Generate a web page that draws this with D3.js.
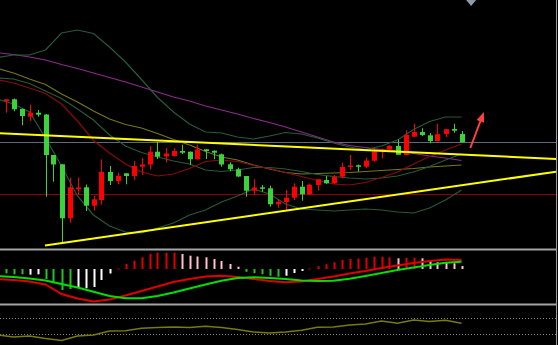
<!DOCTYPE html>
<html>
<head>
<meta charset="utf-8">
<script src="https://cdn.jsdelivr.net/npm/d3@7"></script>
<style>
body { margin: 0; background: #000; }
svg { display: block; }
</style>
</head>
<body>
<div class="viz"></div>
<script>
// candles, one per bar (bar 0 .. 57)
var candleOpen = [1198.7,1200.7,1191,1183.3,1187.3,1185.5,1145,1135.7,1081.7,1110.7,1112.7,1094.3,1100,1128,1119,1126.7,1124,1133.3,1135.5,1148.3,1143.5,1144,1149,1148.3,1140.7,1150.7,1149.3,1145.7,1135.7,1130.7,1124,1109.3,1112.7,1111.7,1095.7,1098,1102.3,1113.3,1105.7,1115,1120,1116.7,1123.3,1133.3,1134.7,1133.3,1139.3,1149.5,1150.5,1154,1145,1163.3,1168,1164.7,1159,1166,1171,1166];
var candleHigh = [1200.7,1201.5,1191.5,1195.3,1190,1186,1145,1136,1122.3,1122.5,1115.5,1104,1140.5,1134,1127.3,1127,1139,1142,1154,1158,1152,1151.7,1155.3,1148.5,1155.3,1151,1149.5,1146.5,1137.7,1132.3,1124,1120.7,1115,1114.3,1100,1110,1116.7,1119,1116.5,1121,1124,1125,1137.3,1145,1135.5,1142.3,1151.7,1151.5,1155,1160.5,1169.5,1176.3,1171.7,1167,1176.3,1171,1176.3,1169];
var candleLow = [1187.3,1188.7,1174.7,1179,1183.3,1103.3,1118.3,1057.7,1077.3,1105,1089,1089.5,1095.5,1115,1115.7,1115.7,1120,1125,1130.7,1141,1137.5,1143.3,1146,1135,1140.5,1141,1140.7,1133.3,1128.7,1123,1103.3,1105.5,1108.3,1093.3,1092.3,1090,1100,1099.3,1105,1109.3,1116,1115.7,1121.7,1130,1128.3,1132,1138.3,1141.5,1150,1145,1145,1163,1164,1156.7,1159,1163,1167.3,1157.5];
var candleClose = [1200.7,1190.7,1184,1187.3,1185.3,1145,1135.5,1081.7,1112.7,1112.5,1094.3,1100.7,1128,1119,1124.2,1124,1134,1135.5,1148.3,1143.3,1146.5,1149,1147.3,1140.7,1150.5,1149,1147.3,1135.5,1130.7,1123.5,1109.3,1112.5,1111.3,1095.7,1098.3,1102.3,1113.3,1105.7,1115.3,1120.7,1116.7,1123.3,1133,1134.5,1133.3,1139.5,1148.5,1150.5,1154,1145.2,1165,1168,1165,1159,1165.8,1170.8,1169.3,1157.7];

// indicator lines are read every second bar
var lineBars = [-1,1,3,5,7,9,11,13,15,17,19,21,23,25,27,29,31,33,35,37,39,41,43,45,47,49,51,53,55,57];
var maPurple = [1247.3,1245.5,1243,1240,1235.5,1231.5,1227,1222.5,1218,1213,1208,1203,1199,1194,1190,1186,1181.5,1177.5,1173,1168,1163,1158,1154.5,1152.5,1150.5,1149,1146.5,1144,1142,1139.5];
var maOlive = [1231.5,1227,1221,1215.5,1206,1198,1189,1181,1175.5,1172,1166.5,1160.5,1155,1148.5,1143,1140,1135,1131,1127.5,1126,1126.5,1127,1127.5,1128.5,1129.5,1130.5,1131.5,1133,1134,1135];
var maDarkRed = [1220.5,1217,1212,1206.5,1196,1179,1159.5,1147,1136,1128,1124,1126,1131.5,1138.5,1140,1138.5,1134.5,1131.5,1127.5,1123.5,1119.5,1116,1115,1117.5,1122.5,1128,1136,1143.5,1150,1156];
var bandUpper = [1242.5,1245,1245,1250,1267,1270,1266.5,1253,1238,1220.5,1202.5,1188,1176,1168,1167,1163,1161,1164,1167.5,1166,1162,1157,1153,1150.5,1154,1160,1170.5,1178.5,1183,1183];
var bandMiddle = [1222,1221,1216.5,1209,1201.5,1191,1180,1165,1154,1147.5,1143,1139,1136,1130,1128.5,1130,1132.5,1132.5,1131,1128.5,1125.5,1123.5,1122,1121,1122,1124,1128,1133.5,1140,1146];
var bandLower = [1201,1196,1188,1162,1134,1104,1085,1074,1068,1067,1072,1077,1085,1090,1098,1104,1111,1106,1096,1091,1090,1089,1090,1091,1090,1088,1087,1092,1100,1110];

// drawn objects: [bar, price]
var trendHigh = [[-0.69, 1166.7], [69.06, 1141]];
var trendLow = [[4.94, 1054.5], [69.06, 1128.6]];
var levelPrice = 1105.7;
var arrowPath = [[58.1, 1152], [59.8, 1188]];
var shiftBar = 58.2;

// MACD histogram, one per bar
var macdHist = [-4.3,-5.3,-5.3,-5.7,-5.3,-10,-14,-21,-20,-18,-19.3,-18,-11,-4.5,0.5,5,8.3,11.7,15,16.3,16.3,16.3,15,13.3,12.5,11.7,10,8,5,2.3,-2.8,-4.2,-5.3,-6.8,-7.7,-6.7,-4,-2,0.5,2.8,4.8,6.7,9,10,10.5,11.3,12.3,12.3,11.7,10.7,11.3,11.3,10.7,8.3,6.7,6.5,5.7,3];
var macdState = ["g","g","g","w","w","g","g","g","g","w","w","w","w","w","r","r","r","r","r","r","r","r","p","p","p","p","p","p","p","p","g","g","g","g","g","w","w","w","r","r","r","r","r","r","r","r","r","r","r","p","r","r","p","p","p","p","p","p"];
var macdGreen = [-7,-8,-9.5,-11.5,-15,-18.5,-22.7,-27,-29.3,-29.3,-27,-23.5,-19.5,-15.5,-11.7,-9,-8.3,-9,-10,-11.5,-12,-11.7,-9.7,-7,-4,-1,1.5,4,6.3,7.3];
var macdRed = [-10,-11,-12.5,-15.5,-25,-29.5,-32.5,-30.5,-26.5,-22,-17.5,-13,-10,-7.5,-6.7,-8,-10,-12,-13.3,-12.5,-10,-7.5,-4.5,-2,1,3.5,6,8,9.5,9];

// lower oscillator
var oscLevels = [70, 30];
var oscValues = [27.5,22.5,25,18.75,13.75,25,27.5,37.5,38.25,44.5,46.25,47.5,46.25,49.25,46.25,41.25,35,32.5,35,39.25,46.75,47.5,52.5,55,62.5,56.75,65,61.25,64.25,56.75];

// dimensions
var width = 558, height = 345;
var mainBottom = 247;

var svg = d3.select(".viz").append("svg")
    .attr("width", width)
    .attr("height", height)
    .style("background", "#000");

var defs = svg.append("defs");
defs.append("clipPath").attr("id", "clipMain")
    .append("rect").attr("x", 0).attr("y", 0).attr("width", 556).attr("height", mainBottom + 1);

// scales
var xScale = d3.scaleLinear().domain([0, 57]).range([5.5, 461.5]);
var yScale = d3.scaleLinear().domain([1053, 1300]).range([mainBottom, 0]);
var yMacd = d3.scaleLinear().domain([-34, 18]).range([303, 251]);
var yOsc = d3.scaleLinear().domain([0, 100]).range([346, 306]);

var main = svg.append("g").attr("clip-path", "url(#clipMain)");

var pairs = function(vals) { return vals.map((v, i) => [lineBars[i], v]); };

var priceLine = d3.line().x(d => xScale(d[0])).y(d => yScale(d[1]));

// horizontal levels
var bid = candleClose[candleClose.length - 1];
main.append("line")
    .attr("x1", 0).attr("x2", width)
    .attr("y1", Math.round(yScale(bid)) + 0.5).attr("y2", Math.round(yScale(bid)) + 0.5)
    .style("stroke", "#5f6b78").style("stroke-width", 1);
main.append("line")
    .attr("x1", 0).attr("x2", width)
    .attr("y1", Math.round(yScale(levelPrice)) + 0.5).attr("y2", Math.round(yScale(levelPrice)) + 0.5)
    .style("stroke", "#8b0000").style("stroke-width", 1);

// moving averages and bands
var maSeries = [
    { vals: maPurple, color: "#8e2a8e" },
    { vals: maOlive, color: "#77771a" },
    { vals: bandUpper, color: "#275a3a" },
    { vals: bandMiddle, color: "#275a3a" },
    { vals: bandLower, color: "#275a3a" },
    { vals: maDarkRed, color: "#8b0a0a" }
];
maSeries.forEach(s => {
    main.append("path")
        .datum(pairs(s.vals))
        .attr("d", priceLine)
        .style("fill", "none")
        .style("stroke", s.color)
        .style("stroke-width", 1.2);
});

// candles
var bars = d3.range(candleOpen.length);
var candleG = main.append("g");
candleG.selectAll(".wick")
    .data(bars)
    .enter()
    .append("line")
    .attr("x1", i => Math.round(xScale(i)) + 0.5)
    .attr("x2", i => Math.round(xScale(i)) + 0.5)
    .attr("y1", i => yScale(candleHigh[i]))
    .attr("y2", i => yScale(candleLow[i]))
    .style("stroke", i => candleClose[i] >= candleOpen[i] ? "#ff0000" : "#3cd23c")
    .style("stroke-width", 1);
candleG.selectAll(".body")
    .data(bars)
    .enter()
    .append("rect")
    .attr("x", i => Math.round(xScale(i)) - 2)
    .attr("width", 5)
    .attr("y", i => yScale(Math.max(candleOpen[i], candleClose[i])))
    .attr("height", i => Math.max(1.5, Math.abs(yScale(candleOpen[i]) - yScale(candleClose[i]))))
    .style("fill", i => candleClose[i] >= candleOpen[i] ? "#ff0000" : "#3cd23c");

// trend lines
[trendHigh, trendLow].forEach(t => {
    main.append("path")
        .datum(t)
        .attr("d", priceLine)
        .style("stroke", "#ffff00")
        .style("stroke-width", 2)
        .style("fill", "none");
});

// red arrow
var a0 = [xScale(arrowPath[0][0]), yScale(arrowPath[0][1])];
var a1 = [xScale(arrowPath[1][0]), yScale(arrowPath[1][1])];
var ang = Math.atan2(a1[1] - a0[1], a1[0] - a0[0]);
var headLen = 10, headW = 4;
var shaftEnd = [a1[0] - Math.cos(ang) * headLen * 0.8, a1[1] - Math.sin(ang) * headLen * 0.8];
main.append("line")
    .attr("x1", a0[0]).attr("y1", a0[1])
    .attr("x2", shaftEnd[0]).attr("y2", shaftEnd[1])
    .style("stroke", "#ff4040").style("stroke-width", 2);
var bx = a1[0] - Math.cos(ang) * headLen, by = a1[1] - Math.sin(ang) * headLen;
main.append("path")
    .attr("d", "M" + a1[0] + "," + a1[1] +
        "L" + (bx + Math.sin(ang) * headW) + "," + (by - Math.cos(ang) * headW) +
        "L" + (bx - Math.sin(ang) * headW) + "," + (by + Math.cos(ang) * headW) + "Z")
    .style("fill", "#ff4040");

// chart shift marker
var sx = xScale(shiftBar);
svg.append("path")
    .attr("d", "M" + (sx - 5) + ",0L" + (sx + 5) + ",0L" + sx + ",6Z")
    .style("fill", "#8d9aa8");

// MACD panel
var histColor = { g: "#22c322", w: "#ffffff", r: "#e00000", p: "#ffc0cb" };
svg.append("g").selectAll("rect")
    .data(bars)
    .enter()
    .append("rect")
    .attr("x", i => Math.round(xScale(i)) - 0.5)
    .attr("width", 2)
    .attr("y", i => yMacd(Math.max(0, macdHist[i])))
    .attr("height", i => Math.max(1, Math.abs(yMacd(macdHist[i]) - yMacd(0))))
    .style("fill", i => histColor[macdState[i]]);

var macdLine = d3.line().x(d => xScale(d[0])).y(d => yMacd(d[1]));
svg.append("path").datum(pairs(macdRed)).attr("d", macdLine)
    .style("fill", "none").style("stroke", "#e00000").style("stroke-width", 2);
svg.append("path").datum(pairs(macdGreen)).attr("d", macdLine)
    .style("fill", "none").style("stroke", "#00e000").style("stroke-width", 2);

// oscillator panel
oscLevels.forEach(l => {
    svg.append("line")
        .attr("x1", 0).attr("x2", 556)
        .attr("y1", Math.round(yOsc(l)) + 0.5).attr("y2", Math.round(yOsc(l)) + 0.5)
        .style("stroke", "#8a8a8a")
        .style("stroke-dasharray", "1,2");
});
var oscLine = d3.line().x(d => xScale(d[0])).y(d => yOsc(d[1]));
svg.append("path").datum(pairs(oscValues)).attr("d", oscLine)
    .style("fill", "none").style("stroke", "#7a7a10").style("stroke-width", 1.5);

// panel separators and frame
[249.5, 304.5].forEach(y => {
    svg.append("line")
        .attr("x1", 0).attr("x2", 556)
        .attr("y1", y).attr("y2", y)
        .style("stroke", "#a4a4a4").style("stroke-width", 2);
});
svg.append("line")
    .attr("x1", 556.5).attr("x2", 556.5)
    .attr("y1", 0).attr("y2", height)
    .style("stroke", "#9a9a9a").style("stroke-width", 1);
</script>
</body>
</html>
